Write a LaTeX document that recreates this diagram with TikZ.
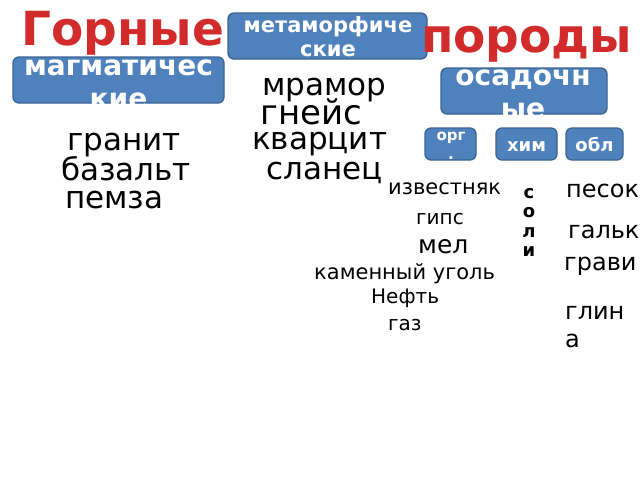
\documentclass[tikz,border=0pt]{standalone}
\usepackage{fontspec}
\setmainfont{DejaVu Sans}
\definecolor{boxfill}{HTML}{4F81BD}
\definecolor{boxline}{HTML}{3A6391}
\definecolor{titlered}{HTML}{D22B2B}
\begin{document}
\begin{tikzpicture}[x=1pt,y=-1pt,
  box/.style={draw=boxline, line width=1.3pt, fill=boxfill, rounded corners=6pt, inner sep=0pt},
  btext/.style={text=white, font=\bfseries\fontsize{#1}{#1}\selectfont, inner sep=0pt, anchor=base},
  bword/.style={font=\bfseries\fontsize{#1}{#1}\selectfont, inner sep=0pt, anchor=base},
  word/.style={font=\fontsize{#1}{#1}\selectfont, inner sep=0pt, anchor=base west},
  ttl/.style={text=titlered, font=\bfseries\fontsize{47}{47}\selectfont, inner sep=0pt, anchor=base west}]
\useasboundingbox (0,0) rectangle (640,480);
% boxes
\node[box, minimum width=199pt, minimum height=46pt] (meta) at (327.5,36) {};
\node[btext=21] (meta1) at (328,32) {метаморфиче};
\node[btext=21] (meta2) at (328,56) {ские};
\node[box, minimum width=211pt, minimum height=46pt] (mag) at (118.5,80) {};
\node[btext=28] (mag1) at (118.5,75) {магматичес};
\node[btext=28] (mag2) at (118.5,108) {кие};
\node[box, minimum width=166pt, minimum height=46pt] (osad) at (524,91) {};
\node[btext=28] (osad1) at (523,85) {осадочн};
\node[btext=28] (osad2) at (523,118) {ые};
\node[box, minimum width=51pt, minimum height=32pt] (org) at (450.5,144) {};
\node[btext=15] (org1) at (451,140) {орг};
\node[btext=15] (org2) at (451,159) {.};
\node[box, minimum width=61pt, minimum height=32pt] (him) at (526.5,144) {};
\node[btext=18] (him1) at (526.5,151) {хим};
\node[box, minimum width=57pt, minimum height=32pt] (obl) at (594.5,144) {};
\node[btext=18] (obl1) at (594.5,151) {обл};
% titles
\node[ttl] (t1) at (21,45) {Горные};
\node[ttl] (t2) at (421,52) {породы};
% magmatic
\node[word=31] (w1) at (67,150) {гранит};
\node[word=31] (w2) at (61,180) {базальт};
\node[word=31] (w3) at (65,208) {пемза};
% metamorphic
\node[word=31] (w4) at (262,95) {мрамор};
\node[word=34] (w5) at (260,124) {гнейс};
\node[word=31] (w6) at (252,149) {кварцит};
\node[word=31] (w7) at (266,179) {сланец};
% sedimentary organic
\node[word=21] (w8) at (388,194) {известняк};
\node[word=20] (w9) at (416,224) {гипс};
\node[word=25] (w10) at (418,253) {мел};
\node[word=21] (w11) at (314,279) {каменный уголь};
\node[word=20] (w12) at (371,303) {Нефть};
\node[word=20] (w13) at (388,330) {газ};
% chemical
\node[bword=18] (s1) at (529,198) {с};
\node[bword=18] (s2) at (529,217) {о};
\node[bword=18] (s3) at (529,237) {л};
\node[bword=18] (s4) at (529,256) {и};
% clastic
\node[word=24] (w14) at (566,197) {песок};
\node[word=24] (w15) at (568,238) {гальк};
\node[word=24] (w16) at (564,270) {грави};
\node[word=24] (w17) at (565,319) {глин};
\node[word=24] (w18) at (565,347) {а};
\end{tikzpicture}
\end{document}
